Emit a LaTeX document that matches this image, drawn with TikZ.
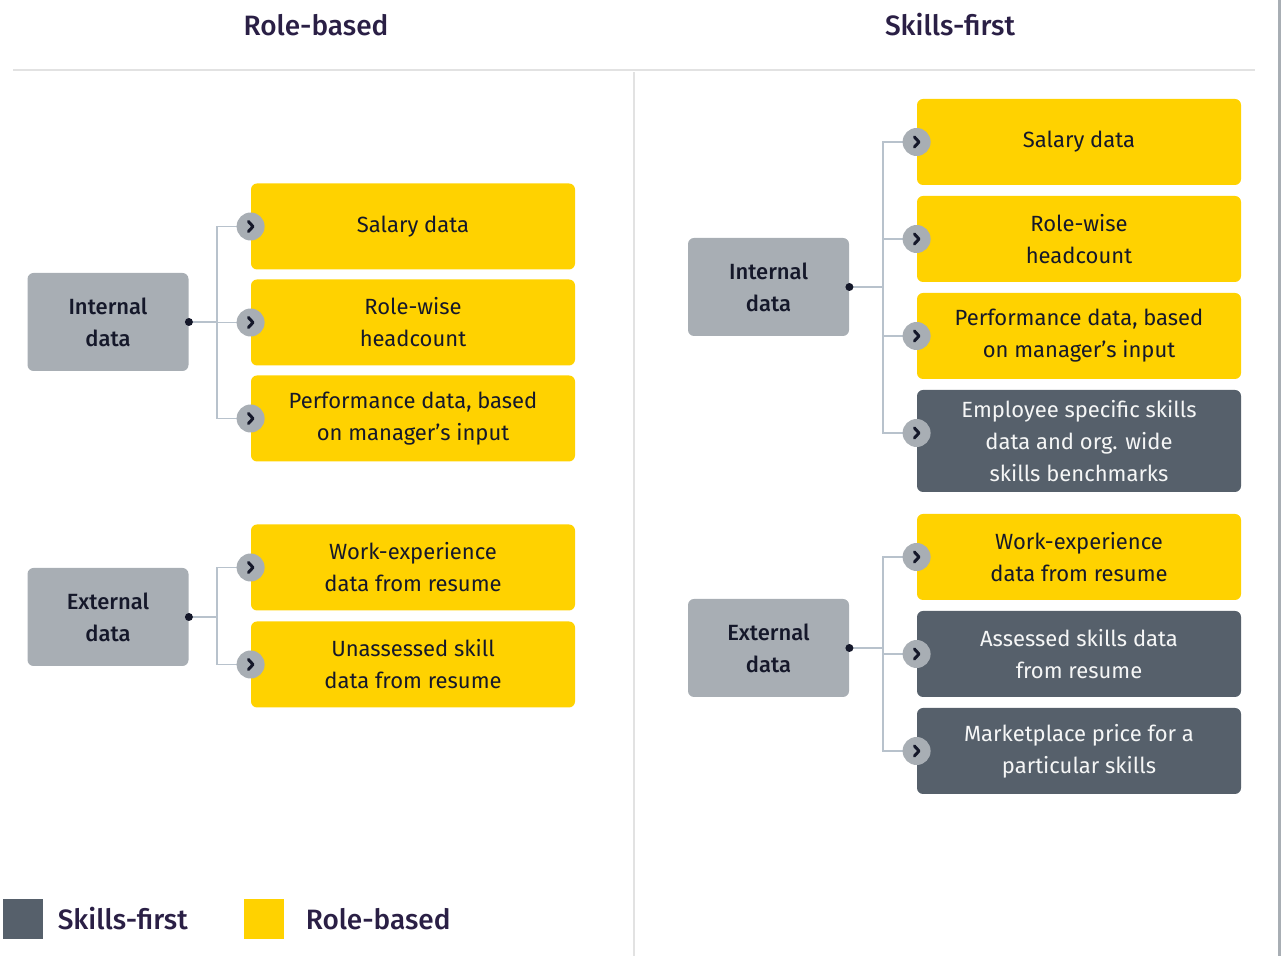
\documentclass[tikz,border=0pt]{standalone}
\usepackage{fontspec}
\setmainfont{Fira Sans}[BoldFont={Fira Sans Medium}]
\usepackage{tikz}
\usetikzlibrary{positioning}
\definecolor{eyyellow}{HTML}{FFD200}
\definecolor{slate}{HTML}{56606B}
\definecolor{srcgray}{HTML}{A8AEB4}
\definecolor{ink}{HTML}{15182A}
\definecolor{navy}{HTML}{2A1F45}
\definecolor{linegray}{HTML}{B8C2CC}
\definecolor{rulegray}{HTML}{E2E2E2}

\begin{document}
\begin{tikzpicture}[
	x=0.5pt, y=-0.5pt
	,title/.style={text=navy, font=\bfseries\fontsize{14}{16}\selectfont}
	,src/.style={fill=srcgray, rounded corners=3pt, minimum width=80.5pt, minimum height=49pt, align=center, text=ink, font=\bfseries\fontsize{11}{16}\selectfont}
	,role/.style={fill=eyyellow, rounded corners=3pt, minimum width=162pt, minimum height=43pt, align=center, text=ink, font=\fontsize{11}{16}\selectfont}
	,skill/.style={role, fill=slate, text=white!94!slate}
	,go/.style={circle, fill=srcgray, minimum size=14pt, inner sep=0pt, path picture={
		\draw[ink, line width=1.5pt, line cap=round, line join=round]
			([shift={(-1.1pt,2.5pt)}]path picture bounding box.center) -- ++(2.3pt,-2.5pt) -- ++(-2.3pt,-2.5pt);}}
	,link/.style={draw=linegray, line width=0.6pt}
	,dot/.style={circle, fill=ink, minimum size=4pt, inner sep=0pt}
	,key/.style={minimum size=20pt, inner sep=0pt}
	,keytext/.style={inner sep=0pt, text=navy, font=\bfseries\fontsize{14}{16}\selectfont}
]
	\useasboundingbox (0,0) rectangle (1282,956);

	% frame
	\draw[rulegray, line width=1pt] (13,70) -- (1255,70);
	\draw[rulegray, line width=1pt] (634,72) -- (634,956);
	\draw[srcgray, line width=1.5pt] (1279,0) -- (1279,956);

	\node[title] (TL) at (316,25) {Role-based};
	\node[title] (TR) at (950,25) {Skills-first};

	% role-based
	\node[src] (IL) at (108,322) {Internal\\data};
	\node[src] (EL) at (108,617) {External\\data};

	\node[role] (L1) at (413,226.5) {Salary data};
	\node[role] (L2) at (413,322.5) {Role-wise\\headcount};
	\node[role] (L3) at (413,418.5) {Performance data, based\\on manager’s input};
	\node[role] (L4) at (413,567.5) {Work-experience\\data from resume};
	\node[role] (L5) at (413,664.5) {Unassessed skill\\data from resume};

	\coordinate (JL) at (217,322);
	\coordinate (KL) at (217,617);
	\foreach \b in {1,2,3,4,5}
		\coordinate (pL\b) at (L\b.west);
	\foreach \b in {1,2,3}
		\draw[link] (JL) |- (pL\b);
	\foreach \b in {4,5}
		\draw[link] (KL) |- (pL\b);
	\draw[link] (IL.east) -- (JL);
	\draw[link] (EL.east) -- (KL);
	\foreach \b in {1,2,3,4,5}
		\node[go] (gL\b) at (pL\b) {};
	\node[dot] (dIL) at (IL.east) {};
	\node[dot] (dEL) at (EL.east) {};

	% skills-first
	\node[src] (IR) at (768.5,287) {Internal\\data};
	\node[src] (ER) at (768.5,648) {External\\data};

	\node[role] (R1) at (1079,142) {Salary data};
	\node[role] (R2) at (1079,239) {Role-wise\\headcount};
	\node[role] (R3) at (1079,336) {Performance data, based\\on manager’s input};
	\node[skill, minimum height=51pt] (R4) at (1079,441) {Employee specific skills\\data and org. wide\\skills benchmarks};
	\node[role] (R5) at (1079,557) {Work-experience\\data from resume};
	\node[skill] (R6) at (1079,654) {Assessed skills data\\from resume};
	\node[skill] (R7) at (1079,751) {Marketplace price for a\\particular skills};

	\coordinate (JR) at (883,287);
	\coordinate (KR) at (883,648);
	\foreach \b in {1,2,3,5,6,7}
		\coordinate (pR\b) at (R\b.west);
	\coordinate (pR4) at ([yshift=4pt]R4.west);
	\foreach \b in {1,2,3,4}
		\draw[link] (JR) |- (pR\b);
	\foreach \b in {5,6,7}
		\draw[link] (KR) |- (pR\b);
	\draw[link] (IR.east) -- (JR);
	\draw[link] (ER.east) -- (KR);
	\foreach \b in {1,...,7}
		\node[go] (gR\b) at (pR\b) {};
	\node[dot] (dIR) at (IR.east) {};
	\node[dot] (dER) at (ER.east) {};

	% legend
	\node[key, fill=slate] (K1) at (23,919) {};
	\node[keytext, right=7pt of K1] (T1) {Skills-first};
	\node[key, fill=eyyellow] (K2) at (264,919) {};
	\node[keytext, right=10.5pt of K2] (T2) {Role-based};
\end{tikzpicture}
\end{document}
